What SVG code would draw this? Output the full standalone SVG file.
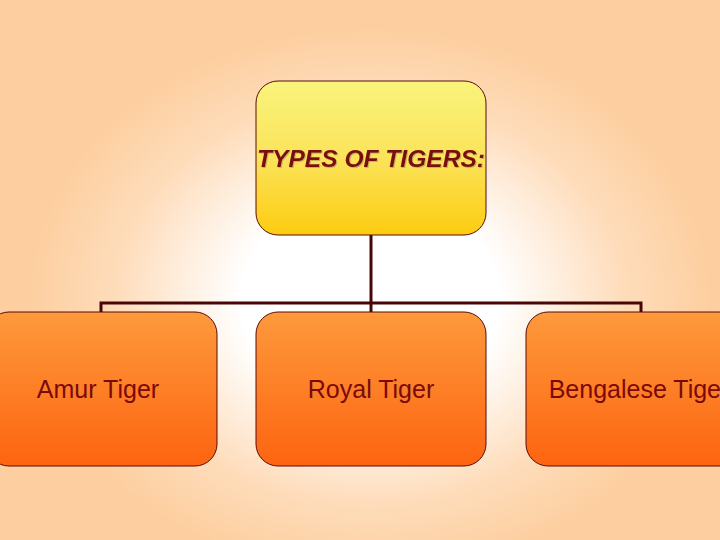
<svg xmlns="http://www.w3.org/2000/svg" width="720" height="540" viewBox="0 0 720 540">
  <defs>
    <radialGradient id="bg" cx="370" cy="300" r="340" gradientUnits="userSpaceOnUse" gradientTransform="translate(370 300) scale(1 0.8) translate(-370 -300)">
      <stop offset="0" stop-color="#ffffff"/>
      <stop offset="0.38" stop-color="#ffffff"/>
      <stop offset="0.75" stop-color="#fedcba"/>
      <stop offset="1" stop-color="#fdcfa0"/>
    </radialGradient>
    <linearGradient id="topFill" x1="0" y1="0" x2="0" y2="1">
      <stop offset="0" stop-color="#f9f47c"/>
      <stop offset="0.5" stop-color="#fbe35a"/>
      <stop offset="1" stop-color="#fdcc10"/>
    </linearGradient>
    <linearGradient id="childFill" x1="0" y1="0" x2="0" y2="1">
      <stop offset="0" stop-color="#fd9a3c"/>
      <stop offset="1" stop-color="#fd6410"/>
    </linearGradient>
    <filter id="shadow" x="-5%" y="-20%" width="110%" height="140%">
      <feDropShadow dx="1" dy="1" stdDeviation="0.4" flood-color="#a08060" flood-opacity="0.5"/>
    </filter>
    <style>
      .box { stroke: #5a0a0a; stroke-width: 1; }
      .child { fill: url(#childFill); }
      .lbl { font-family: "Liberation Sans", "DejaVu Sans", sans-serif; font-size: 25px; fill: #7a0a0a; text-anchor: middle; }
      .title { font-family: "Liberation Sans", Arial, sans-serif; font-size: 23px; font-weight: bold; font-style: italic; fill: #7a0a0a; }
      .conn { fill: none; stroke: #4a0606; stroke-width: 3; }
    </style>
  </defs>
  <rect x="0" y="0" width="720" height="540" fill="url(#bg)"/>
  <g id="connectors">
    <path class="conn" d="M371 235 V303"/>
    <path class="conn" d="M101 312 V303 H641 V312"/>
    <path class="conn" d="M371 303 V312"/>
  </g>
  <g id="root">
    <rect class="box" x="256" y="81" width="230" height="154" rx="22" ry="22" fill="url(#topFill)"/>
    <text class="title" x="257" y="167" textLength="228" lengthAdjust="spacingAndGlyphs" filter="url(#shadow)">TYPES OF TIGERS:</text>
  </g>
  <g id="amur">
    <rect class="box child" x="-13" y="312" width="230" height="154" rx="22" ry="22"/>
    <text class="lbl" x="98" y="398">Amur Tiger</text>
  </g>
  <g id="royal">
    <rect class="box child" x="256" y="312" width="230" height="154" rx="22" ry="22"/>
    <text class="lbl" x="371" y="398">Royal Tiger</text>
  </g>
  <g id="bengalese">
    <rect class="box child" x="526" y="312" width="230" height="154" rx="22" ry="22"/>
    <text class="lbl" x="639" y="398">Bengalese Tiger</text>
  </g>
</svg>
